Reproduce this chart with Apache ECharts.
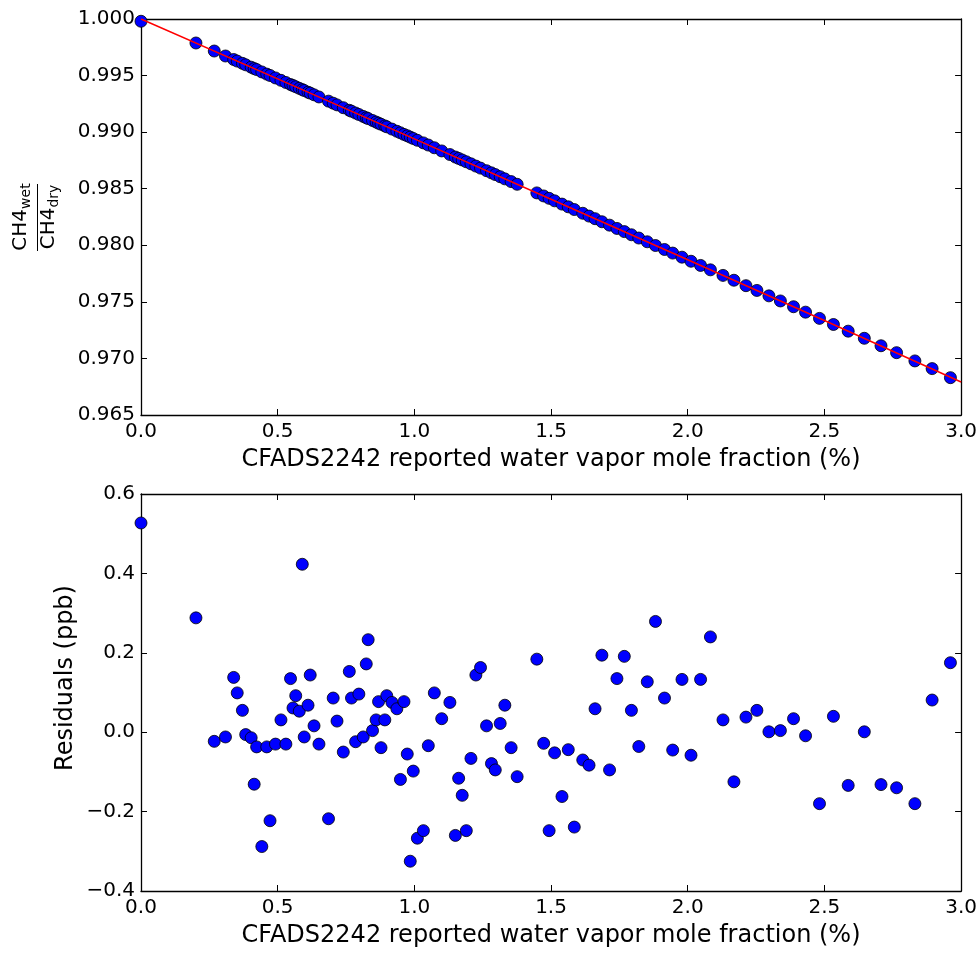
<!DOCTYPE html>
<html>
<head>
<meta charset="utf-8">
<script src="https://cdn.jsdelivr.net/npm/echarts@6/dist/echarts.min.js"></script>
<style>
html,body{margin:0;padding:0;background:#fff;}
#chart{width:980px;height:953px;}
</style>
</head>
<body>
<div id="chart"></div>
<script>
// CFADS2242 reported water vapor mole fraction (%)
const waterVapor = [
  0.000,0.201,0.268,0.309,0.339,0.352,0.371,0.383,0.403,0.414,0.423,0.442,0.460,0.472,0.492,0.512,0.530,0.547,0.556,0.566,
  0.579,0.590,0.597,0.611,0.619,0.633,0.651,0.686,0.703,0.717,0.740,0.762,0.770,0.785,0.797,0.813,0.824,0.831,0.847,0.860,
  0.869,0.878,0.892,0.899,0.918,0.936,0.949,0.962,0.974,0.985,
  0.996,1.011,1.033,1.051,1.073,1.100,1.130,1.150,1.162,1.175,1.190,1.207,1.225,1.242,1.264,1.282,1.296,1.314,1.331,1.354,
  1.376,1.448,1.473,1.493,1.513,1.540,1.563,1.585,1.616,1.639,1.661,1.686,1.714,1.741,1.768,1.794,1.821,1.852,1.882,1.915,
  1.945,1.979,
  2.012,2.047,2.083,2.129,2.169,2.213,2.253,2.297,2.339,2.387,2.431,2.482,2.533,2.587,2.646,2.707,2.764,2.831,2.894,2.961
];
// CH4wet / CH4dry
const ratioWetDry = [
  0.99980,0.99788,0.99717,0.99673,0.99642,0.99628,0.99608,0.99595,0.99574,0.99562,0.99553,0.99532,0.99513,0.99501,0.99479,0.99458,0.99439,0.99421,0.99412,0.99401,
  0.99387,0.99376,0.99368,0.99353,0.99345,0.99330,0.99311,0.99274,0.99256,0.99241,0.99216,0.99193,0.99185,0.99169,0.99156,0.99139,0.99127,0.99120,0.99103,0.99089,
  0.99079,0.99070,0.99055,0.99047,0.99027,0.99008,0.98994,0.98980,0.98968,0.98956,
  0.98944,0.98928,0.98905,0.98886,0.98862,0.98834,0.98802,0.98780,0.98768,0.98754,0.98738,0.98720,0.98700,0.98682,0.98659,0.98640,0.98625,0.98606,0.98587,0.98563,
  0.98539,0.98463,0.98436,0.98415,0.98393,0.98364,0.98340,0.98316,0.98283,0.98258,0.98235,0.98208,0.98178,0.98149,0.98121,0.98093,0.98064,0.98031,0.97998,0.97963,
  0.97931,0.97895,
  0.97859,0.97822,0.97783,0.97734,0.97691,0.97643,0.97601,0.97553,0.97508,0.97457,0.97409,0.97354,0.97300,0.97241,0.97178,0.97112,0.97051,0.96978,0.96910,0.96830
];
// Residuals (ppb)
const residuals = [
  0.527,0.288,-0.023,-0.012,0.138,0.099,0.055,-0.006,-0.014,-0.131,-0.037,-0.288,-0.037,-0.223,-0.030,0.031,-0.030,0.135,0.061,0.092,
  0.053,0.423,-0.012,0.068,0.144,0.016,-0.030,-0.218,0.086,0.028,-0.050,0.153,0.086,-0.024,0.096,-0.012,0.172,0.233,0.004,0.031,
  0.077,-0.039,0.031,0.092,0.075,0.059,-0.119,0.077,-0.055,-0.325,
  -0.098,-0.267,-0.248,-0.034,0.099,0.034,0.075,-0.260,-0.116,-0.159,-0.248,-0.066,0.144,0.163,0.016,-0.079,-0.095,0.022,0.068,-0.039,
  -0.112,0.184,-0.028,-0.248,-0.052,-0.162,-0.044,-0.239,-0.070,-0.083,0.059,0.194,-0.095,0.135,0.191,0.055,-0.036,0.127,0.279,0.086,
  -0.045,0.133,
  -0.058,0.133,0.240,0.031,-0.125,0.038,0.055,0.001,0.004,0.034,-0.009,-0.180,0.040,-0.134,0.001,-0.132,-0.140,-0.180,0.081,0.175
];
// fitted curve (red line)
const fitX = [0.0, 0.5, 1.0, 1.5, 2.0, 2.5, 3.0];
const fitY = [1.00000, 0.99471, 0.98940, 0.98407, 0.97872, 0.97335, 0.96792];

const xTitle = 'CFADS2242 reported water vapor mole fraction (%)';
const FONT = 'DejaVu Sans';

const topPoints = waterVapor.map((x, i) => [x, ratioWetDry[i]]);
const botPoints = waterVapor.map((x, i) => [x, residuals[i]]);
const fitPoints = fitX.map((x, i) => [x, fitY[i]]);

const lineSt = {color: '#000', width: 1.3};
function xAx(grid, pos, show) {
  return {
    type: 'value', gridIndex: grid, position: pos, min: 0, max: 3, interval: 0.5,
    axisLine: {show: true, onZero: false, lineStyle: lineSt},
    axisTick: {show: true, inside: true, length: 6, lineStyle: {color: '#000', width: 1}},
    splitLine: {show: false},
    axisLabel: {show: show, margin: 7, fontFamily: FONT, fontSize: 20, color: '#000',
      formatter: v => v.toFixed(1)},
    name: show ? xTitle : '', nameLocation: 'middle', nameGap: 33,
    nameTextStyle: {fontFamily: FONT, fontSize: 24, color: '#000'}
  };
}
function yAx(grid, pos, show, min, max, interval, dec) {
  return {
    type: 'value', gridIndex: grid, position: pos, min: min, max: max, interval: interval,
    axisLine: {show: true, onZero: false, lineStyle: lineSt},
    axisTick: {show: true, inside: true, length: 6, lineStyle: {color: '#000', width: 1}},
    splitLine: {show: false},
    axisLabel: {show: show, margin: 6, fontFamily: FONT, fontSize: 20, color: '#000',
      formatter: v => v.toFixed(dec).replace('-', '\u2212')}
  };
}

const chart = echarts.init(document.getElementById('chart'), null, {renderer: 'canvas'});
chart.setOption({
  animation: false,
  backgroundColor: '#fff',
  grid: [
    {left: 141, right: 17, top: 19, height: 396},
    {left: 141, right: 17, top: 494, height: 397}
  ],
  xAxis: [xAx(0, 'bottom', true), xAx(0, 'top', false), xAx(1, 'bottom', true), xAx(1, 'top', false)],
  yAxis: [
    yAx(0, 'left', true, 0.965, 1.0, 0.005, 3), yAx(0, 'right', false, 0.965, 1.0, 0.005, 3),
    yAx(1, 'left', true, -0.4, 0.6, 0.2, 1), yAx(1, 'right', false, -0.4, 0.6, 0.2, 1)
  ],
  series: [
    {type: 'scatter', xAxisIndex: 0, yAxisIndex: 0, data: topPoints, symbolSize: 12,
     itemStyle: {color: '#0000ff', borderColor: '#000', borderWidth: 0.8, opacity: 1}, z: 2},
    {type: 'line', xAxisIndex: 0, yAxisIndex: 0, data: fitPoints, showSymbol: false, symbol: 'none',
     lineStyle: {color: '#ff0000', width: 1.5}, z: 3, silent: true},
    {type: 'scatter', xAxisIndex: 2, yAxisIndex: 2, data: botPoints, symbolSize: 12,
     itemStyle: {color: '#0000ff', borderColor: '#000', borderWidth: 0.8, opacity: 1}, z: 2}
  ],
  graphic: [
    {type: 'text', x: 21, y: 217, rotation: Math.PI / 2,
     style: {text: '{m|CH4}{s|wet}', align: 'center', verticalAlign: 'middle',
       rich: {m: {fontFamily: FONT, fontSize: 20, lineHeight: 24, fill: '#000'},
              s: {fontFamily: FONT, fontSize: 14, lineHeight: 14, padding: [10, 0, 0, 0], fill: '#000'}}}},
    {type: 'line', shape: {x1: 37.5, y1: 184, x2: 37.5, y2: 251}, style: {stroke: '#000', lineWidth: 1}},
    {type: 'text', x: 49, y: 217, rotation: Math.PI / 2,
     style: {text: '{m|CH4}{s|dry}', align: 'center', verticalAlign: 'middle',
       rich: {m: {fontFamily: FONT, fontSize: 20, lineHeight: 24, fill: '#000'},
              s: {fontFamily: FONT, fontSize: 14, lineHeight: 14, padding: [10, 0, 0, 0], fill: '#000'}}}},
    {type: 'text', x: 66, y: 678, rotation: Math.PI / 2,
     style: {text: 'Residuals (ppb)', align: 'center', verticalAlign: 'middle',
       fontFamily: FONT, fontSize: 24, fill: '#000'}}
  ]
});
</script>
</body>
</html>
